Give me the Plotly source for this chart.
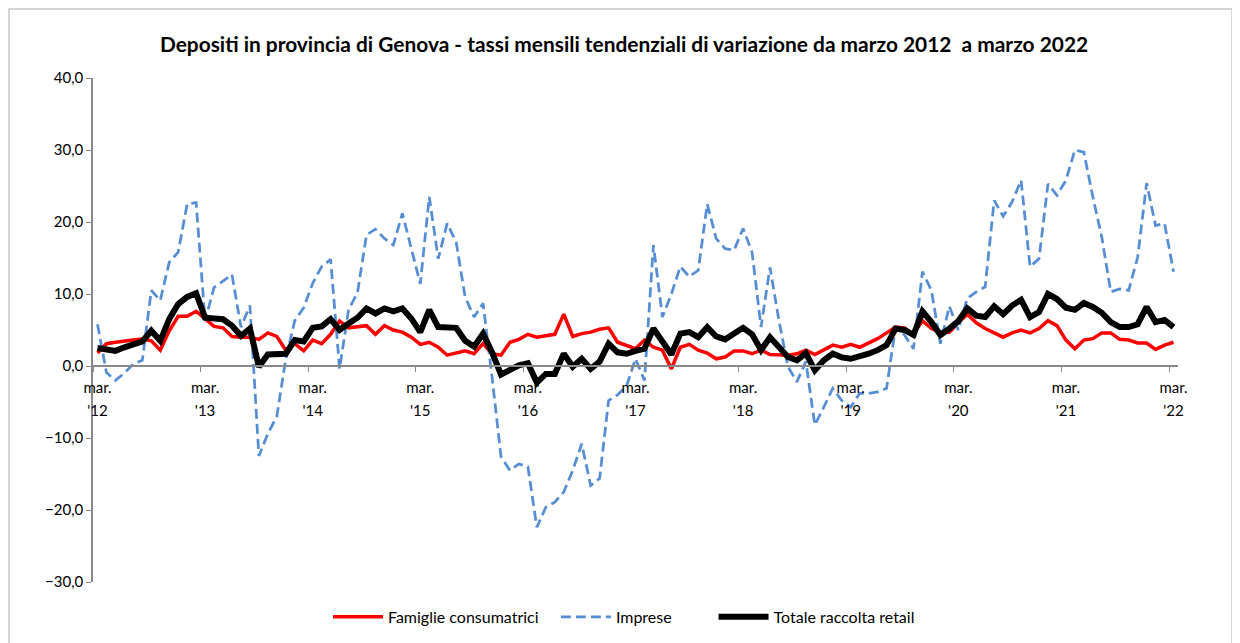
"""Depositi in provincia di Genova - tassi mensili tendenziali di variazione."""

import pandas as pd
import plotly.graph_objects as go

# monthly observations, March 2012 to March 2022
months = pd.date_range("2012-03-01", "2022-03-01", freq="MS")

famiglie = [
    1.8, 3.1, 3.3, 3.4, 3.6, 3.75, 3.5, 2.2, 4.9, 6.9, 6.9, 7.6,
    6.5, 5.5, 5.3, 4.1, 4.0, 4.0, 3.7, 4.6, 4.1, 2.2, 3.1, 2.1,
    3.6, 3.1, 4.4, 6.25, 5.3, 5.4, 5.6, 4.4, 5.6, 5.0, 4.7, 4.0,
    3.0, 3.3, 2.6, 1.5, 1.8, 2.1, 1.7, 3.1, 1.7, 1.5, 3.3, 3.7,
    4.4, 4.0, 4.2, 4.4, 7.2, 4.1, 4.5, 4.7, 5.1, 5.3, 3.3, 2.9,
    2.4, 3.6, 2.6, 2.2, -0.4, 2.6, 3.0, 2.2, 1.8, 1.0, 1.25, 2.1,
    2.1, 1.7, 2.2, 1.6, 1.5, 1.5, 1.7, 2.2, 1.6, 2.2, 2.9, 2.6,
    3.0, 2.6, 3.2, 3.8, 4.6, 5.4, 5.3, 4.4, 6.3, 5.2, 4.7, 4.7,
    6.0, 7.2, 6.0, 5.2, 4.6, 4.0, 4.6, 5.0, 4.6, 5.2, 6.3, 5.6,
    3.6, 2.4, 3.6, 3.8, 4.6, 4.6, 3.7, 3.6, 3.2, 3.2, 2.3, 2.9,
    3.3,
]

imprese = [
    5.8, -0.9, -2.0, -1.0, 0.3, 0.8, 10.5, 9.1, 14.4, 15.8, 22.5, 22.7,
    6.3, 10.9, 11.8, 12.7, 5.4, 8.4, -12.5, -9.4, -7.0, 1.0, 6.3, 8.1,
    11.5, 13.8, 14.8, -0.4, 7.8, 10.2, 18.2, 19.0, 17.7, 16.8, 21.2, 16.5,
    11.4, 23.5, 14.9, 19.8, 17.2, 9.6, 6.8, 8.7, -1.5, -12.6, -14.5, -13.6,
    -14.0, -22.4, -19.6, -18.9, -17.5, -14.5, -10.8, -16.6, -15.6, -4.8, -4.0, -2.8,
    1.0, -2.0, 16.8, 6.8, 10.0, 13.8, 12.4, 13.3, 22.5, 17.7, 16.3, 16.1,
    19.1, 15.8, 5.4, 13.7, 6.3, -0.1, -2.2, 0.6, -8.2, -5.7, -3.1, -4.8,
    -5.7, -3.8, -3.8, -3.6, -3.1, 5.4, 4.3, 2.4, 13.1, 10.5, 3.1, 8.3,
    5.0, 9.4, 10.3, 11.0, 23.0, 20.8, 22.8, 25.8, 13.8, 14.9, 25.3, 23.7,
    25.8, 30.0, 29.7, 23.5, 17.9, 10.3, 10.7, 10.5, 15.1, 25.4, 19.5, 19.8,
    13.1,
]

totale = [
    2.5, 2.4, 2.1, 2.6, 3.0, 3.4, 4.9, 3.5, 6.5, 8.6, 9.6, 10.1,
    6.7, 6.6, 6.5, 5.6, 4.2, 5.2, -0.1, 1.6, 1.7, 1.7, 3.6, 3.4,
    5.3, 5.5, 6.5, 5.0, 5.9, 6.7, 8.0, 7.3, 8.0, 7.6, 8.0, 6.6,
    4.7, 7.8, 5.4, 5.4, 5.3, 3.5, 2.7, 4.5, 1.9, -1.2, -0.5, 0.1,
    0.4, -2.3, -1.1, -1.1, 1.7, -0.1, 1.0, -0.4, 0.6, 3.1, 1.9, 1.7,
    2.1, 2.4, 5.2, 3.3, 1.6, 4.5, 4.7, 4.0, 5.4, 4.1, 3.7, 4.5,
    5.3, 4.4, 2.2, 4.0, 2.6, 1.25, 0.8, 1.8, -0.6, 0.8, 1.7, 1.2,
    1.0, 1.25, 1.7, 2.2, 2.9, 5.2, 5.0, 4.3, 7.6, 6.1, 4.3, 5.2,
    6.25, 8.0, 7.0, 6.8, 8.3, 7.2, 8.4, 9.2, 6.8, 7.5, 10.0, 9.3,
    8.1, 7.8, 8.75, 8.2, 7.4, 6.1, 5.4, 5.4, 5.8, 8.2, 6.1, 6.4,
    5.4,
]

FONT = "Lato, 'Open Sans', sans-serif"
AXIS_GREY = "#898989"
NBSP = "\u00a0"

x = list(range(len(months)))
march_pos = [i for i, m in enumerate(months) if m.month == 3]
march_month = ["mar." for _ in march_pos]
march_year = [f"'{months[i].strftime('%y')}" for i in march_pos]
boundaries = [i - 0.5 for i in march_pos]
x_range = [-0.5, len(months) - 0.5]

fig = go.Figure()
fig.add_trace(
    go.Scatter(
        x=x, y=famiglie, name="Famiglie consumatrici" + NBSP * 3, mode="lines",
        line=dict(color="#FF0000", width=3.5),
    )
)
fig.add_trace(
    go.Scatter(
        x=x, y=imprese, name="Imprese" + NBSP * 9, mode="lines",
        line=dict(color="#558ED5", width=2.75, dash="10px,5px"),
    )
)
# on the overlaid axis that carries the year labels (drawn on top, as in the original)
fig.add_trace(
    go.Scatter(
        x=x, y=totale, name="Totale raccolta retail", mode="lines",
        line=dict(color="#000000", width=6), xaxis="x2",
    )
)

# the page body adds an 8px offset, so the figure is 8px smaller than the window
fig.update_layout(
    width=1232,
    height=635,
    margin=dict(l=85, r=62, t=70, b=61, autoexpand=False),
    paper_bgcolor="white",
    plot_bgcolor="white",
    separators=",.",
    font=dict(family=FONT, size=15, color="#000000"),
    title=dict(
        text="<b>Depositi in provincia di Genova - tassi mensili tendenziali di variazione da marzo 2012  a marzo 2022</b>",
        x=0.5, xref="container", y=0.943, yanchor="middle",
        font=dict(family=FONT, size=20.9, color="#000000"),
    ),
    showlegend=True,
    legend=dict(
        orientation="h", x=0.5, xanchor="center", xref="container",
        y=0.041, yanchor="middle", yref="container",
        bgcolor="rgba(0,0,0,0)",
        font=dict(family=FONT, size=16), itemwidth=50,
    ),
    shapes=[
        dict(
            type="rect", xref="paper", yref="paper",
            x0=-0.0774, x1=1.0498, y0=-0.2, y1=1.137,
            line=dict(color="#C8C8C8", width=1.5),
        )
    ],
)

fig.update_layout(
    xaxis=dict(
        range=x_range,
        anchor="free",
        position=30 / 70,
        showgrid=False,
        zeroline=False,
        showline=True,
        linecolor=AXIS_GREY,
        linewidth=1.5,
        tickmode="array",
        tickvals=march_pos,
        ticktext=march_month,
        ticks="outside",
        ticklen=8,
        tickcolor="rgba(0,0,0,0)",
        tickfont=dict(family=FONT, size=15),
        minor=dict(
            tickmode="array", tickvals=boundaries, ticks="outside",
            ticklen=5, tickcolor=AXIS_GREY, tickwidth=1.2, showgrid=False,
        ),
    ),
    xaxis2=dict(
        range=x_range,
        overlaying="x",
        anchor="free",
        position=30 / 70,
        side="bottom",
        showgrid=False,
        zeroline=False,
        showline=False,
        tickmode="array",
        tickvals=march_pos,
        ticktext=march_year,
        ticks="outside",
        ticklen=31,
        tickcolor="rgba(0,0,0,0)",
        tickfont=dict(family=FONT, size=15),
    ),
    yaxis=dict(
        range=[-30, 40],
        dtick=10,
        tickformat=".1f",
        showgrid=False,
        zeroline=False,
        showline=True,
        linecolor=AXIS_GREY,
        linewidth=1.5,
        ticks="outside",
        ticklen=5,
        tickcolor=AXIS_GREY,
        tickfont=dict(family=FONT, size=15),
    ),
)

fig.write_html("out.html")
